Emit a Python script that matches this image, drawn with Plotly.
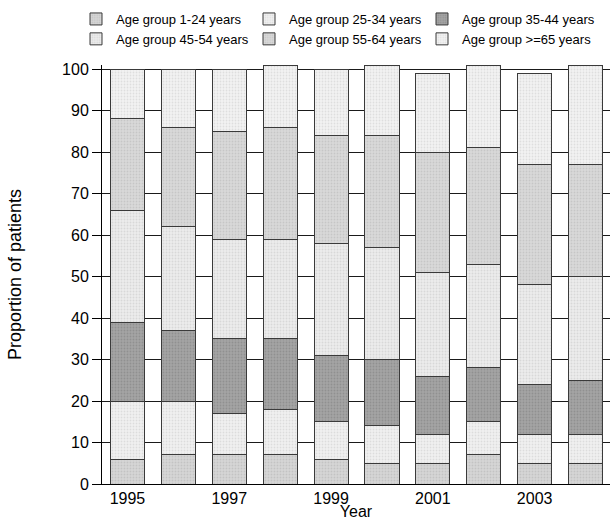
import plotly.graph_objects as go

years = [1995, 1996, 1997, 1998, 1999, 2000, 2001, 2002, 2003, 2004]
groups = ["Age group 1-24 years", "Age group 25-34 years", "Age group 35-44 years",
          "Age group 45-54 years", "Age group 55-64 years", "Age group >=65 years"]
age_1_24 = [6, 7, 7, 7, 6, 5, 5, 7, 5, 5]
age_25_34 = [14, 13, 10, 11, 9, 9, 7, 8, 7, 7]
age_35_44 = [19, 17, 18, 17, 16, 16, 14, 13, 12, 13]
age_45_54 = [27, 25, 24, 24, 27, 27, 25, 25, 24, 25]
age_55_64 = [22, 24, 26, 27, 26, 27, 29, 28, 29, 27]
age_65_up = [12, 14, 15, 15, 16, 17, 19, 20, 22, 24]
series = [age_1_24, age_25_34, age_35_44, age_45_54, age_55_64, age_65_up]

fills = ["#d6d6d6", "#f1f1f1", "#a4a4a4", "#ececec", "#d9d9d9", "#f3f3f3"]
dots = ["#b0b0b0", "#c8c8c8", "#7c7c7c", "#c4c4c4", "#b4b4b4", "#cacaca"]

FONT = "Liberation Sans, Arial, sans-serif"

PLOT_L, PLOT_T, PLOT_W, PLOT_H = 102, 65, 508, 419

fig = go.Figure()
for name, vals, fc, dc in zip(groups, series, fills, dots):
    fig.add_trace(go.Bar(
        x=years, y=vals, name=name, width=0.67,
        marker=dict(color=fc, line=dict(color="#3a3a3a", width=1),
                    pattern=dict(shape=".", bgcolor=fc, fgcolor=dc, size=3, solidity=0.3)),
    ))

fig.update_layout(
    barmode="stack",
    width=610, height=520,
    margin=dict(l=PLOT_L, r=0, t=PLOT_T, b=520 - PLOT_T - PLOT_H),
    plot_bgcolor="white", paper_bgcolor="white",
    font=dict(family=FONT, color="black", size=16),
    showlegend=True,
    legend=dict(orientation="h", xref="paper", yref="paper",
                x=(76 - PLOT_L) / PLOT_W, y=1 + (PLOT_T - 4) / PLOT_H,
                xanchor="left", yanchor="top",
                entrywidth=128, entrywidthmode="pixels", traceorder="normal",
                font=dict(size=13, family=FONT), bgcolor="rgba(0,0,0,0)",
                tracegroupgap=0),
    xaxis=dict(range=[1994.5, 2004.48], tickvals=[1995, 1997, 1999, 2001, 2003],
               ticktext=["1995", "1997", "1999", "2001", "2003"],
               showgrid=False, showline=True, linecolor="black", linewidth=1,
               ticks="", zeroline=False, tickfont=dict(size=16),
               title=dict(text="Year", font=dict(size=16), standoff=2)),
    yaxis=dict(range=[0, 101], tickvals=list(range(0, 101, 10)),
               showgrid=True, gridcolor="#1a1a1a", gridwidth=1,
               showline=True, linecolor="black", linewidth=1,
               ticks="outside", ticklen=9, tickcolor="black", zeroline=False,
               tickfont=dict(size=16),
               title=dict(text="Proportion of patients", font=dict(size=18), standoff=35)),
)

fig.write_html("out.html")
